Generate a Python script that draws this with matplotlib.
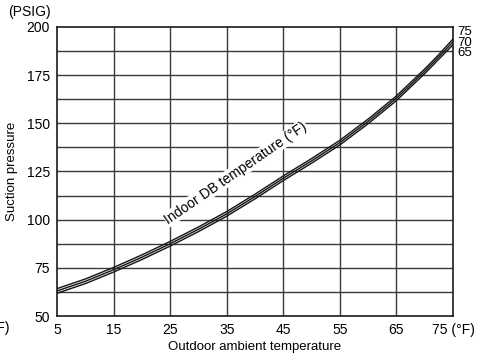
import matplotlib
matplotlib.use("Agg")
import matplotlib.pyplot as plt

# outdoor ambient temperature (°F)
outdoor = [5, 10, 15, 20, 25, 30, 35, 40, 45, 50, 55, 60, 65, 70, 72.5, 75]
# suction pressure (PSIG) for indoor DB 65 / 70 / 75 °F
p65 = [61.8, 66.8, 72.8, 79.3, 86.3, 93.8, 101.8, 110.8, 120.3, 129.3, 138.8, 149.8, 161.8, 175.8, 183.3, 190.8]
p70 = [63.0, 68.0, 74.0, 80.5, 87.5, 95.0, 103.0, 112.0, 121.5, 130.5, 140.0, 151.0, 163.0, 177.0, 184.5, 192.3]
p75 = [64.2, 69.2, 75.2, 81.7, 88.7, 96.2, 104.2, 113.2, 122.7, 131.7, 141.2, 152.2, 164.2, 178.2, 185.7, 193.8]
curve_labels = ["75", "70", "65"]

xticks = [5, 15, 25, 35, 45, 55, 65, 75]
xticklabels = ["5", "15", "25", "35", "45", "55", "65", "75 (°F)"]
yticks = [50, 75, 100, 125, 150, 175, 200]

plt.rcParams['font.family'] = ['Liberation Sans', 'DejaVu Sans']

fig = plt.figure(figsize=(4.91, 3.56), dpi=100)
ax = fig.add_axes([57 / 491, 1 - 316 / 356, 396 / 491, 289 / 356])

ax.set_xlim(5, 75)
ax.set_ylim(50, 200)

# grid: every 10 °F and every 12.5 PSIG
for x in range(15, 75, 10):
    ax.axvline(x, color='#3a3a3a', lw=1.0, zorder=1)
for i in range(1, 12):
    ax.axhline(50 + 12.5 * i, color='#3a3a3a', lw=1.0, zorder=1)

for p in (p65, p70, p75):
    ax.plot(outdoor, p, color='#1a1a1a', lw=1.05, zorder=3)

ax.set_xticks(xticks)
ax.set_xticklabels(xticklabels)
ax.set_yticks(yticks)
ax.tick_params(length=0, labelsize=10, pad=5)
for s in ax.spines.values():
    s.set_linewidth(1.2)
    s.set_color('#1a1a1a')
    s.set_zorder(5)

ax.set_xlabel("Outdoor ambient temperature", fontsize=9.5, labelpad=3)
ax.set_ylabel("Suction pressure", fontsize=9.5, labelpad=6)

# curve labels at the right edge
for lab, yy in zip(curve_labels, [32, 42.5, 53.5]):
    fig.text(457 / 491, 1 - yy / 356, lab, fontsize=9.5, va='center', ha='left')

fig.text(8 / 491, 1 - 12 / 356, "(PSIG)", fontsize=10, va='center', ha='left')
fig.text(10 / 491, 1 - 328 / 356, "(°F)", fontsize=10, va='center', ha='right')

ax.text(36.6, 124.3, "Indoor DB temperature (°F)", rotation=34.5, fontsize=10,
        ha='center', va='center', zorder=4,
        bbox=dict(facecolor='white', edgecolor='none', pad=0.5))

fig.savefig("out.png", dpi=100)
